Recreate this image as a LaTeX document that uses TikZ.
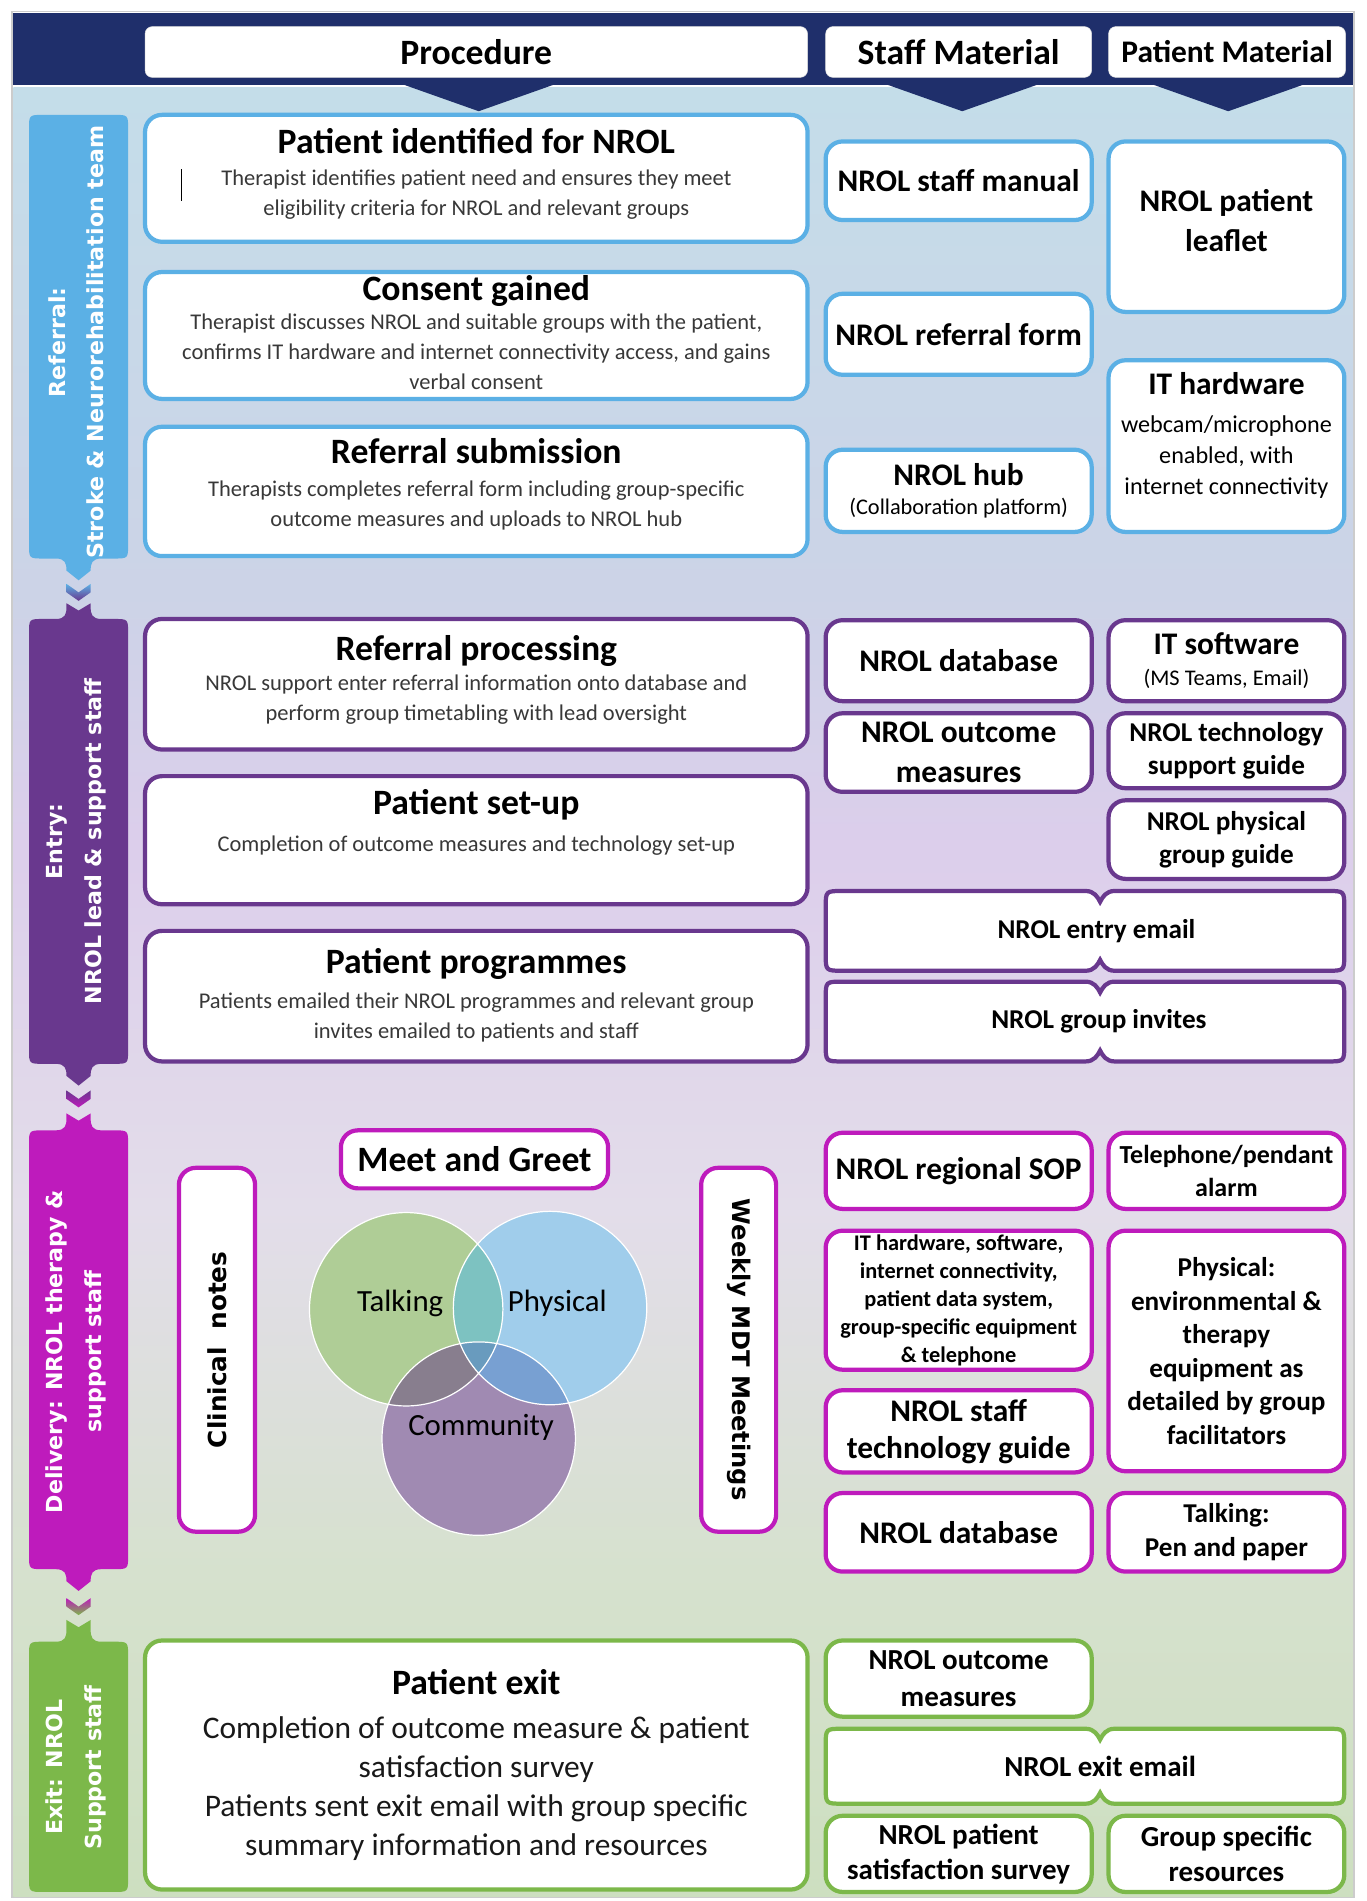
\documentclass[tikz,border=0pt]{standalone}
\usepackage{fontspec}
\setmainfont{Carlito}
\newfontfamily\lanefont{DejaVu Sans}
\usepackage{tikz}
\usetikzlibrary{calc}

\definecolor{navy}{RGB}{31,47,107}
\definecolor{refc}{RGB}{91,176,229}
\definecolor{entc}{RGB}{105,56,142}
\definecolor{delc}{RGB}{190,27,188}
\definecolor{exic}{RGB}{124,184,74}
\definecolor{talkc}{RGB}{175,205,150}
\definecolor{physc}{RGB}{160,205,235}
\definecolor{commc}{RGB}{160,138,178}
\definecolor{tpc}{RGB}{125,194,193}
\definecolor{tcc}{RGB}{136,126,142}
\definecolor{pcc}{RGB}{120,160,210}
\definecolor{tpcc}{RGB}{105,155,190}
\definecolor{bgA}{RGB}{205,223,192}
\definecolor{bgB}{RGB}{214,225,206}
\definecolor{bgC}{RGB}{227,221,234}
\definecolor{bgD}{RGB}{220,206,235}
\definecolor{bgE}{RGB}{204,211,231}
\definecolor{bgF}{RGB}{196,221,233}

\pgfdeclareverticalshading{lanebg}{100bp}{color(0bp)=(bgA); color(25bp)=(bgA); color(34bp)=(bgB); color(44bp)=(bgC); color(54bp)=(bgD); color(61bp)=(bgE); color(75bp)=(bgF); color(100bp)=(bgF)}

\newcommand{\ttl}{\fontsize{29.5}{33}\selectfont\bfseries}
\newcommand{\ptl}{\ttl\color{black}}
\newcommand{\fsA}{\fontsize{26}{33}\selectfont\bfseries}
\newcommand{\fsB}{\fontsize{22.5}{27}\selectfont\bfseries}

\newcommand{\notchbox}[6]{%
  \draw[#1, line width=3.5pt, fill=white]
    (#2,#4+14) .. controls (#2,#4) .. (#2+14,#4)
    -- (#6-12,#4) .. controls (#6-5,#4) and (#6-2,#4+5) .. (#6,#4+9)
    .. controls (#6+2,#4+5) and (#6+5,#4) .. (#6+12,#4)
    -- (#3-14,#4) .. controls (#3,#4) .. (#3,#4+14)
    -- (#3,#5-14) .. controls (#3,#5) .. (#3-14,#5)
    -- (#6+12,#5) .. controls (#6+5,#5) and (#6+2,#5-5) .. (#6,#5-9)
    .. controls (#6-2,#5-5) and (#6-5,#5) .. (#6-12,#5)
    -- (#2+14,#5) .. controls (#2,#5) .. (#2,#5-14) -- cycle;}

\tikzstyle{hdr} = [fill=white, draw=gray!25, rounded corners=6pt, minimum height=42pt, inner sep=0pt, font=\ttl]
\tikzstyle{box} = [fill=white, line width=3.5pt, rounded corners=14pt, align=center, inner sep=0pt]
\tikzstyle{proc} = [box, minimum width=548pt, text=black!78, font=\fontsize{18.6}{24.8}\selectfont]
\tikzstyle{staff} = [box, minimum width=220pt]
\tikzstyle{pat} = [box, minimum width=195pt]
\tikzstyle{wide} = [align=center, inner sep=0pt]
\tikzstyle{lane} = [text=white, rotate=90, align=center, inner sep=0pt, font=\lanefont\fontsize{18.3}{32}\selectfont\bfseries]
\tikzstyle{side} = [box, minimum width=301pt, font=\lanefont\fontsize{20.5}{24}\selectfont\bfseries]
\tikzstyle{venn} = [inner sep=0pt, font=\fontsize{25.5}{30}\selectfont]

\begin{document}
\begin{tikzpicture}[x=1pt, y=-1pt]
    \useasboundingbox (0,0) rectangle (1130,1572.5);
    \fill[white] (0,0) rectangle (1130,1572.5);
    \draw[gray!40, line width=1.5pt] (10,9.5) rectangle (1120,1569.5);
    \shade[shading=lanebg] (11,72) rectangle (1119,1569);
    \fill[navy] (11,10.5) rectangle (1119,70);
    \fill[navy] (331,69) -- (396,92) -- (461,69) -- cycle;
    \fill[navy] (731,69) -- (796,92) -- (861,69) -- cycle;
    \fill[navy] (951,69) -- (1016,92) -- (1081,69) -- cycle;

    \node[hdr, minimum width=548pt] (h-proc) at (394,43) {Procedure};
    \node[hdr, minimum width=220pt] (h-staff) at (793,43) {Staff Material};
    \node[hdr, minimum width=196pt, font=\fontsize{26}{30}\selectfont\bfseries] (h-pat) at (1015,43) {Patient Material};

    \fill[refc] (24,107) .. controls (24,95) .. (36,95) -- (94,95) .. controls (106,95) .. (106,107) -- (106,450) .. controls (106,462) .. (94,462) -- (84,462) .. controls (76,462) and (75,466) .. (75,472) -- (65,480) -- (55,472) .. controls (55,466) and (54,462) .. (46,462) -- (36,462) .. controls (24,462) .. (24,450) -- cycle;
    \shade[top color=refc, bottom color=entc] (55,483) -- (65,490) -- (75,483) -- (75,490) -- (65,497) -- (55,490) -- cycle;
    \fill[entc] (24,524) .. controls (24,512) .. (36,512) -- (46,512) .. controls (54,512) and (55,508) .. (55,502) -- (55,499) -- (65,505) -- (75,499) -- (75,502) .. controls (75,508) and (76,512) .. (84,512) -- (94,512) .. controls (106,512) .. (106,524) -- (106,868) .. controls (106,880) .. (94,880) -- (84,880) .. controls (76,880) and (75,884) .. (75,890) -- (65,898) -- (55,890) .. controls (55,884) and (54,880) .. (46,880) -- (36,880) .. controls (24,880) .. (24,868) -- cycle;
    \shade[top color=entc, bottom color=delc] (55,902) -- (65,909) -- (75,902) -- (75,909) -- (65,916) -- (55,909) -- cycle;
    \fill[delc] (24,947) .. controls (24,935) .. (36,935) -- (46,935) .. controls (54,935) and (55,931) .. (55,925) -- (55,921) -- (65,927) -- (75,921) -- (75,925) .. controls (75,931) and (76,935) .. (84,935) -- (94,935) .. controls (106,935) .. (106,947) -- (106,1286) .. controls (106,1298) .. (94,1298) -- (84,1298) .. controls (76,1298) and (75,1302) .. (75,1308) -- (65,1316) -- (55,1308) .. controls (55,1302) and (54,1298) .. (46,1298) -- (36,1298) .. controls (24,1298) .. (24,1286) -- cycle;
    \shade[top color=delc, bottom color=exic] (55,1322) -- (65,1329) -- (75,1322) -- (75,1329) -- (65,1336) -- (55,1329) -- cycle;
    \fill[exic] (24,1370) .. controls (24,1358) .. (36,1358) -- (46,1358) .. controls (54,1358) and (55,1354) .. (55,1348) -- (55,1340) -- (65,1346) -- (75,1340) -- (75,1348) .. controls (75,1354) and (76,1358) .. (84,1358) -- (94,1358) .. controls (106,1358) .. (106,1370) -- (106,1553) .. controls (106,1565) .. (94,1565) -- (36,1565) .. controls (24,1565) .. (24,1553) -- cycle;

    \node[lane] (l-ref) at (63,283) {Referral:\\Stroke \& Neurorehabilitation team};
    \node[lane] (l-ent) at (63,696) {Entry:\\NROL lead \& support staff};
    \node[lane] (l-del) at (63,1118) {Delivery: NROL therapy \&\\support staff};
    \node[lane] (l-exi) at (63,1462) {Exit: NROL\\Support staff};

    \node[proc, draw=refc, minimum height=105pt] (pid) at (394,147.5) {{\ptl Patient identified for NROL}\\[2pt]Therapist identifies patient need and ensures they meet\\eligibility criteria for NROL and relevant groups\\[-14pt]\mbox{}};
    \draw[line width=1.3pt] (150,140) -- (150,166);
    \node[proc, draw=refc, minimum height=105pt] (consent) at (394,277.5) {{\ptl Consent gained}\\[-0.7pt]Therapist discusses NROL and suitable groups with the patient,\\confirms IT hardware and internet connectivity access, and gains\\verbal consent\\[-20pt]\mbox{}};
    \node[proc, draw=refc, minimum height=107pt] (refsub) at (394,406.5) {{\ptl Referral submission}\\[2pt]Therapists completes referral form including group-specific\\outcome measures and uploads to NROL hub\\[-10pt]\mbox{}};
    \node[proc, draw=entc, minimum height=108pt] (refproc) at (394,566) {{\ptl Referral processing}\\[0.3pt]NROL support enter referral information onto database and\\perform group timetabling with lead oversight\\[-14pt]\mbox{}};
    \node[proc, draw=entc, minimum height=106pt] (setup) at (394,695) {{\ptl Patient set-up}\\[6.3pt]Completion of outcome measures and technology set-up\\[7.8pt]\mbox{}};
    \node[proc, draw=entc, minimum height=108pt] (progs) at (394,824) {{\ptl Patient programmes}\\[4.3pt]Patients emailed their NROL programmes and relevant group\\invites emailed to patients and staff\\[-20pt]\mbox{}};
    \node[proc, draw=exic, minimum height=206pt, text=black!90, font=\fontsize{26}{32.3}\selectfont] (pexit) at (394,1460) {{\ptl Patient exit}\\[4pt]Completion of outcome measure \& patient\\satisfaction survey\\Patients sent exit email with group specific\\summary information and resources};

    \node[staff, draw=refc, minimum height=65pt, font=\fsA] (manual) at (793,149.5) {NROL staff manual};
    \node[staff, draw=refc, minimum height=67pt, font=\fsA] (refform) at (793,276.5) {NROL referral form};
    \node[staff, draw=refc, minimum height=68pt, font=\fontsize{18.5}{23.6}\selectfont] (hub) at (793,406) {{\fsA NROL hub}\\(Collaboration platform)};
    \node[pat, draw=refc, minimum height=141pt, font=\fsA] (leaflet) at (1014.5,187.5) {NROL patient\\leaflet\\[-22pt]\mbox{}};
    \node[pat, draw=refc, minimum height=142pt, font=\fontsize{20}{25.5}\selectfont] (ithw) at (1014.5,369) {{\fsA IT hardware}\\[6pt]webcam/microphone\\enabled, with\\internet connectivity\\[-4.5pt]\mbox{}};

    \node[staff, draw=entc, minimum height=67pt, font=\fsA] (db1) at (793,546.5) {NROL database};
    \node[staff, draw=entc, minimum height=65pt, font=\fsA] (outc1) at (793,622.5) {NROL outcome\\measures};
    \node[pat, draw=entc, minimum height=67pt, font=\fontsize{18.5}{25.5}\selectfont] (itsw) at (1014.5,546.5) {{\fsA IT software}\\(MS Teams, Email)};
    \node[pat, draw=entc, minimum height=62pt, font=\fsB] (techsup) at (1014.5,621) {NROL technology\\support guide};
    \node[pat, draw=entc, minimum height=65pt, font=\fsB] (physg) at (1014.5,694.5) {NROL physical\\group guide};
    \notchbox{entc}{683}{1112}{737}{803}{910}
    \node[wide, font=\fsB] (entmail) at (907,770) {NROL entry email};
    \notchbox{entc}{683}{1112}{812}{878}{910}
    \node[wide, font=\fsB] (invites) at (909,845) {NROL group invites};

    \node[box, draw=delc, minimum width=221pt, minimum height=48pt, font=\ttl] (meet) at (392.5,959) {Meet and Greet};
    \node[side, draw=delc, minimum height=63pt, rotate=90] (clin) at (179.5,1116.5) {Clinical\ \ notes};
    \node[side, draw=delc, minimum height=62pt, rotate=-90, font=\lanefont\fontsize{20}{24}\selectfont\bfseries] (mdt) at (611,1116.5) {Weekly MDT Meetings};
    \coordinate (vt) at (336,1083);
    \coordinate (vp) at (455,1082);
    \coordinate (vc) at (396,1190);
    \fill[talkc] (vt) circle (80pt);
    \fill[physc] (vp) circle (80pt);
    \fill[commc] (vc) circle (80pt);
    \begin{scope}
        \clip (vt) circle (80pt);
        \fill[tpc] (vp) circle (80pt);
        \fill[tcc] (vc) circle (80pt);
    \end{scope}
    \begin{scope}
        \clip (vp) circle (80pt);
        \fill[pcc] (vc) circle (80pt);
    \end{scope}
    \begin{scope}
        \clip (vt) circle (80pt);
        \clip (vp) circle (80pt);
        \fill[tpcc] (vc) circle (80pt);
    \end{scope}
    \draw[white, line width=1pt] (vt) circle (80pt) (vp) circle (80pt) (vc) circle (80pt);
    \node[venn] (talk) at (331,1078) {Talking};
    \node[venn] (phys) at (461,1078) {Physical};
    \node[venn] (comm) at (398,1181) {Community};

    \node[staff, draw=delc, minimum height=63pt, font=\fsA] (sop) at (793,968.5) {NROL regional SOP};
    \node[staff, draw=delc, minimum height=115pt, font=\fontsize{18.5}{23.2}\selectfont\bfseries] (ithw2) at (793,1075.5) {IT hardware, software,\\internet connectivity,\\patient data system,\\group-specific equipment\\\& telephone};
    \node[staff, draw=delc, minimum height=68pt, font=\fontsize{26}{31}\selectfont\bfseries] (techg) at (793,1184) {NROL staff\\technology guide};
    \node[staff, draw=delc, minimum height=65pt, font=\fsA] (db2) at (793,1267.5) {NROL database};
    \node[pat, draw=delc, minimum height=63pt, font=\fontsize{21.5}{27}\selectfont\bfseries] (alarm) at (1014.5,968.5) {Telephone/pendant\\alarm};
    \node[pat, draw=delc, minimum height=199pt, font=\fontsize{22.5}{27.8}\selectfont\bfseries] (physeq) at (1014.5,1117.5) {Physical:\\environmental \&\\therapy\\equipment as\\detailed by group\\facilitators};
    \node[pat, draw=delc, minimum height=65pt, font=\fontsize{22.5}{28}\selectfont\bfseries] (pen) at (1014.5,1267.5) {Talking:\\Pen and paper};

    \node[staff, draw=exic, minimum height=63pt, font=\fontsize{24}{31}\selectfont\bfseries] (outc2) at (793,1388.5) {NROL outcome\\measures};
    \notchbox{exic}{683}{1112}{1430}{1492}{910}
    \node[wide, font=\fontsize{24}{29}\selectfont\bfseries] (exmail) at (910,1461) {NROL exit email};
    \node[staff, draw=exic, minimum height=63pt, font=\fontsize{24}{29}\selectfont\bfseries] (survey) at (793,1533.5) {NROL patient\\satisfaction survey};
    \node[pat, draw=exic, minimum height=63pt, font=\fontsize{24}{29}\selectfont\bfseries] (groupres) at (1014.5,1533.5) {Group specific\\resources};
\end{tikzpicture}
\end{document}
